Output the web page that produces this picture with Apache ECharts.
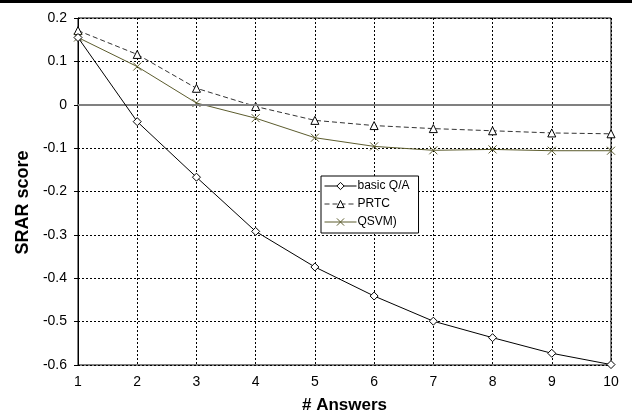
<!DOCTYPE html>
<html>
<head>
<meta charset="utf-8">
<script src="https://cdn.jsdelivr.net/npm/echarts@6/dist/echarts.min.js"></script>
<style>
html,body{margin:0;padding:0;background:#fff;}
#chart{width:632px;height:419px;}
</style>
</head>
<body>
<div id="chart"></div>
<script>
var answers = [1, 2, 3, 4, 5, 6, 7, 8, 9, 10];
var basicQA = [0.155, -0.039, -0.167, -0.292, -0.374, -0.441, -0.499, -0.537, -0.573, -0.599];
var prtc = [0.171, 0.116, 0.038, -0.004, -0.036, -0.048, -0.055, -0.060, -0.065, -0.067];
var qsvm = [0.155, 0.088, 0.004, -0.031, -0.076, -0.096, -0.105, -0.103, -0.106, -0.106];
var seriesNames = ['basic Q/A', 'PRTC', 'QSVM)'];

function pairs(vals) { return answers.map(function (a, i) { return [a, vals[i]]; }); }

var FONT = '"Liberation Sans", Arial, sans-serif';
var chart = echarts.init(document.getElementById('chart'), null, {renderer: 'canvas'});
chart.setOption({
  animation: false,
  backgroundColor: '#fff',
  textStyle: {fontFamily: FONT},
  graphic: [{type: 'rect', left: 0, top: 0, shape: {width: 632, height: 3}, style: {fill: '#000'}}],
  grid: {left: 78, right: 21, top: 18, bottom: 52, show: true, borderColor: '#000', borderWidth: 1, backgroundColor: 'transparent'},
  legend: {
    orient: 'vertical', left: 321, top: 176,
    data: seriesNames,
    backgroundColor: '#fff', borderColor: '#000', borderWidth: 1,
    padding: [3, 9, 4, 3], itemGap: 4, itemWidth: 32, itemHeight: 9,
    itemStyle: {borderWidth: 1},
    lineStyle: {width: 1},
    textStyle: {fontFamily: FONT, fontSize: 12, color: '#000', padding: [0, 0, 0, -4], lineHeight: 14}
  },
  xAxis: {
    type: 'value', min: 1, max: 10, interval: 1,
    name: '# Answers', nameLocation: 'middle', nameGap: 32,
    nameTextStyle: {fontFamily: FONT, fontSize: 17, fontWeight: 'bold', color: '#000'},
    axisLine: {lineStyle: {color: '#000', width: 1}},
    axisTick: {show: false},
    axisLabel: {fontFamily: FONT, fontSize: 14, color: '#000', margin: 10},
    splitLine: {show: true, lineStyle: {color: '#000', type: [2, 2], width: 1}}
  },
  yAxis: {
    type: 'value', min: -0.6, max: 0.2, interval: 0.1,
    name: 'SRAR score', nameLocation: 'middle', nameGap: 44,
    nameTextStyle: {fontFamily: FONT, fontSize: 18, fontWeight: 'bold', color: '#000', padding: [0, 22, 0, 0]},
    axisLine: {show: true, lineStyle: {color: '#000', width: 1}},
    axisTick: {show: true, length: 4, lineStyle: {color: '#000'}},
    axisLabel: {fontFamily: FONT, fontSize: 14, color: '#000', margin: 11,
      formatter: function (v) { return String(Math.round(v * 10) / 10); }},
    splitLine: {show: true, lineStyle: {color: '#000', type: [2, 2], width: 1}}
  },
  series: [
    {
      name: seriesNames[0], type: 'line', data: pairs(basicQA),
      symbol: 'diamond', symbolSize: 8, showAllSymbol: true,
      lineStyle: {color: '#000', width: 1},
      itemStyle: {color: '#fff', borderColor: '#000', borderWidth: 1},
      z: 5,
      markLine: {
        silent: true, symbol: 'none', label: {show: false},
        lineStyle: {color: '#808080', width: 2, type: 'solid'},
        data: [{yAxis: 0}]
      }
    },
    {
      name: seriesNames[1], type: 'line', data: pairs(prtc),
      symbol: 'triangle', symbolSize: 8,
      lineStyle: {color: '#333', width: 1, type: [5, 3]},
      itemStyle: {color: '#fff', borderColor: '#000', borderWidth: 1},
      z: 4
    },
    {
      name: seriesNames[2], type: 'line', data: pairs(qsvm),
      symbol: 'path://M0,0L10,10M10,0L0,10', symbolSize: 8,
      lineStyle: {color: '#5c5c2e', width: 1},
      itemStyle: {color: 'none', borderColor: '#5c5c2e', borderWidth: 1},
      z: 4
    }
  ]
});
</script>
</body>
</html>
